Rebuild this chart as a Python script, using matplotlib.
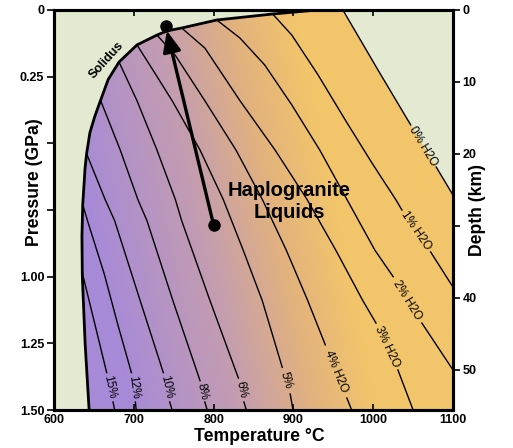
import numpy as np
import matplotlib
matplotlib.use('Agg')
import matplotlib.pyplot as plt
from matplotlib.colors import LinearSegmentedColormap
from matplotlib.patches import Polygon

plt.rcParams['font.family'] = ['Liberation Sans', 'DejaVu Sans']

nan = np.nan

# water-saturated solidus (T in C, P in GPa)
sol_T = [644, 639, 635.5, 635, 636, 639, 641, 645, 651, 658.5, 668, 681.5, 704, 729, 742, 760, 804, 874, 930]
sol_P = [1.5, 1.25, 1.0, 0.85, 0.73, 0.59, 0.536, 0.46, 0.40, 0.3375, 0.26, 0.195, 0.131, 0.094, 0.078, 0.0675, 0.0375, 0.015, 0.0]

# H2O isopleths, nan = break where the label sits
iso_labels = ['15%', '12%', '10%', '8%', '6%', '5%', '4% H2O', '3% H2O', '2% H2O', '1% H2O', '0% H2O']
iso_T = [
    [635, 653, 666, nan, 674, 676],
    [636, 643, 663, 680, 697, nan, 702, 703],
    [641, 664, 676, 708, 737, nan, 745, 748],
    [658.5, 683, 705, 716.5, 749, 783, nan, 789, 792],
    [681.5, 704, 729, 752, 760, 795.5, 831, nan, 838, 841],
    [704, 725, 748, 783, 812, 837, 861, 886, nan, 896, 899.5],
    [729, 752, 789, 828, 861, 891, 918, 940, nan, 967, 973],
    [760, 789, 833, 877, 917, 953, 987, 1003.5, nan, 1031, 1050],
    [804, 833, 864, 898, 933, 967, 1002, 1025, nan, 1061, 1100],
    [874, 898, 931, 965, 998.5, 1028.6, 1036, nan, 1072, 1100],
    [962, 1006, 1047, nan, 1079, 1100],
]
iso_P = [
    [0.98, 1.20, 1.36, nan, 1.47, 1.50],
    [0.73, 0.80, 0.99, 1.18, 1.36, nan, 1.47, 1.50],
    [0.54, 0.71, 0.79, 1.09, 1.36, nan, 1.47, 1.50],
    [0.34, 0.525, 0.71, 0.79, 1.09, 1.39, nan, 1.47, 1.50],
    [0.195, 0.34, 0.525, 0.71, 0.79, 1.09, 1.38, nan, 1.47, 1.50],
    [0.131, 0.23, 0.34, 0.525, 0.71, 0.90, 1.09, 1.34, nan, 1.44, 1.50],
    [0.094, 0.17, 0.34, 0.525, 0.71, 0.90, 1.09, 1.256, nan, 1.455, 1.50],
    [0.0675, 0.1425, 0.34, 0.525, 0.71, 0.90, 1.09, 1.174, nan, 1.35, 1.50],
    [0.0375, 0.105, 0.206, 0.356, 0.525, 0.71, 0.90, 1.00, nan, 1.174, 1.35],
    [0.015, 0.094, 0.244, 0.4125, 0.574, 0.7125, 0.75, nan, 0.9075, 1.039],
    [0.0, 0.225, 0.431, nan, 0.589, 0.694],
]

# ascent path: start and end points
path_T = [800, 740]
path_P = [0.806, 0.06]

x_ticks = [600, 700, 800, 900, 1000, 1100]
p_ticks = [0, 0.25, 0.5, 0.75, 1.0, 1.25, 1.5]
p_ticklabels = ['0', '0.25', '', '', '1.00', '1.25', '1.50']
depth_ticks = [0, 10, 20, 30, 40, 50]
depth_ticklabels = ['0', '10', '20', '', '40', '50']
km_per_gpa = 1 / 0.027

fig = plt.figure(figsize=(5.13, 4.48), dpi=100)
ax = fig.add_axes([54 / 513, 1 - 410 / 448, 399 / 513, 400 / 448])
ax.set_facecolor('#e4ead2')
ax.set_xlim(600, 1100)
ax.set_ylim(1.5, 0)

# gradient fill of the liquid field
cmap = LinearSegmentedColormap.from_list('melt', [(0, '#a78ad8'), (0.45, '#c49db0'), (0.75, '#e2b27e'), (1, '#f2c56b')])
tg, pg = np.meshgrid(np.linspace(600, 1100, 500), np.linspace(0, 1.5, 400))
u = tg - 70 * pg
im = ax.imshow(u, extent=[600, 1100, 1.5, 0], origin='upper', aspect='auto', cmap=cmap, vmin=590, vmax=900, zorder=0)
dry_T = [t for t in iso_T[-1] if not np.isnan(t)]
dry_P = [p for p in iso_P[-1] if not np.isnan(p)]
verts = list(zip(sol_T, sol_P)) + list(zip(dry_T, dry_P)) + [(1100, 1.5)]
poly = Polygon(verts, closed=True, transform=ax.transData, facecolor='none', edgecolor='none')
ax.add_patch(poly)
im.set_clip_path(poly)

fig.canvas.draw()
for lab, ts, ps in zip(iso_labels, iso_T, iso_P):
    ax.plot(ts, ps, color='black', lw=1.0, zorder=2)
    i = [k for k, t in enumerate(ts) if np.isnan(t)][0]
    a = ax.transData.transform((ts[i - 1], ps[i - 1]))
    b = ax.transData.transform((ts[i + 1], ps[i + 1]))
    ang = np.degrees(np.arctan2(b[1] - a[1], b[0] - a[0]))
    ax.text((ts[i - 1] + ts[i + 1]) / 2, (ps[i - 1] + ps[i + 1]) / 2, lab, rotation=ang,
            rotation_mode='anchor', ha='center', va='center', fontsize=8.5, zorder=3)

ax.plot(sol_T, sol_P, color='black', lw=2.0, zorder=3)
ax.text(666, 0.19, 'Solidus', rotation=48, ha='center', va='center', fontsize=9, fontweight='bold')

ax.plot(path_T, path_P, 'o', color='black', ms=8, zorder=4)
ax.annotate('', xy=(path_T[1], path_P[1]), xytext=(path_T[0], path_P[0]),
            arrowprops=dict(arrowstyle='-|>,head_length=0.7,head_width=0.3', lw=2.4, color='black',
                            mutation_scale=18, shrinkA=0, shrinkB=3.5), zorder=4)

ax.text(895, 0.72, 'Haplogranite\nLiquids', ha='center', va='center', fontsize=14.5, fontweight='bold',
        linespacing=1.2, zorder=4)

ax.set_xticks(x_ticks)
ax.set_yticks(p_ticks)
ax.set_yticklabels(p_ticklabels)
ax.tick_params(axis='x', direction='in', top=True, length=4, width=1.2, labelsize=9, pad=3)
ax.tick_params(axis='y', direction='out', length=5, width=1.2, labelsize=9, pad=2)
for t in ax.get_xticklabels() + ax.get_yticklabels():
    t.set_fontweight('bold')
for s in ax.spines.values():
    s.set_linewidth(2.2)
    s.set_zorder(5)
ax.set_xlabel('Temperature °C', fontsize=12.7, fontweight='bold')
ax.set_ylabel('Pressure (GPa)', fontsize=12.7, fontweight='bold')
ax.xaxis.set_label_coords(0.514, -0.046)
ax.yaxis.set_label_coords(-0.027, 0.57)

ax2 = ax.twinx()
ax2.set_ylim(1.5 * km_per_gpa, 0)
ax2.set_yticks(depth_ticks)
ax2.set_yticklabels(depth_ticklabels)
ax2.tick_params(axis='y', direction='out', length=5, width=1.2, labelsize=9, pad=2)
for t in ax2.get_yticklabels():
    t.set_fontweight('bold')
for s in ax2.spines.values():
    s.set_linewidth(2.2)
ax2.set_ylabel('Depth (km)', fontsize=12.7, fontweight='bold')
ax2.yaxis.set_label_coords(1.040, 0.5)

fig.savefig('out.png', dpi=100)
